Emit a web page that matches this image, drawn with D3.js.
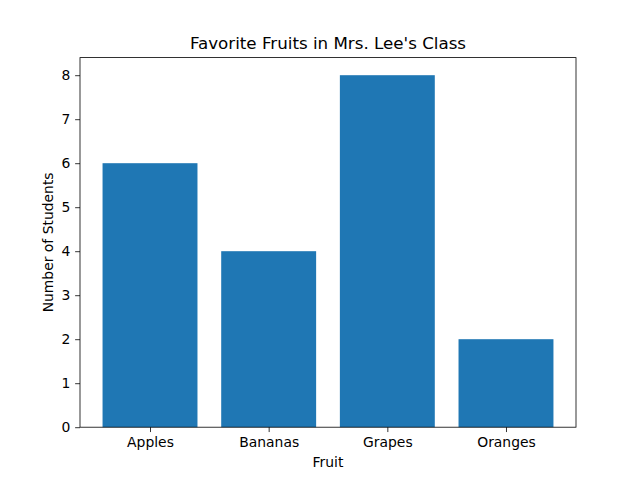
<!DOCTYPE html>
<html><head><meta charset="utf-8">
<script src="https://cdn.jsdelivr.net/npm/d3@7"></script>
<style>body{margin:0;background:#fff}svg{display:block}text{font-family:"DejaVu Sans",sans-serif;fill:#000}</style>
</head><body><svg id="c" width="640" height="480"></svg>
<script>
const categories = ["Apples","Bananas","Grapes","Oranges"];
const values = [6,4,8,2];
const yTicks = [0,1,2,3,4,5,6,7,8];
const title = "Favorite Fruits in Mrs. Lee's Class";
const xLabel = "Fruit";
const yLabel = "Number of Students";

const svg = d3.select("#c");
const L=80, R=576, T=57.6, B=427.2;
const bw=0.8, n=categories.length;
const lo=-bw/2, hi=n-1+bw/2, m=(hi-lo)*0.05;
const x = d3.scaleLinear().domain([lo-m, hi+m]).range([L,R]);
const y = d3.scaleLinear().domain([0, d3.max(values)*1.05]).range([B,T]);

svg.append("g").selectAll("rect").data(values).join("rect")
  .attr("x",(d,i)=>x(i-bw/2)).attr("width",(d,i)=>x(i+bw/2)-x(i-bw/2))
  .attr("y",d=>y(d)).attr("height",d=>y(0)-y(d)).attr("fill","#1f77b4");

const fs=13.9;
const xa = d3.axisBottom(x).tickValues(categories.map((c,i)=>i)).tickFormat(i=>categories[i]).tickSize(4.86).tickPadding(4.86);
const gx = svg.append("g").attr("transform",`translate(0,${B})`).call(xa);
const ya = d3.axisLeft(y).tickValues(yTicks).tickFormat(d3.format("d")).tickSize(4.86).tickPadding(4.86);
const gy = svg.append("g").attr("transform",`translate(${L},0)`).call(ya);
[gx,gy].forEach(g=>{g.select(".domain").remove();g.selectAll("text").attr("font-size",fs).attr("font-family","DejaVu Sans");g.selectAll("line").attr("stroke","#000").attr("stroke-width",0.8);});

svg.append("rect").attr("x",L).attr("y",T).attr("width",R-L).attr("height",B-T)
  .attr("fill","none").attr("stroke","#000").attr("stroke-width",0.8);

svg.append("text").attr("x",(L+R)/2).attr("y",T-8.3).attr("text-anchor","middle").attr("font-size",16.7).text(title);
svg.append("text").attr("x",(L+R)/2).attr("y",467).attr("text-anchor","middle").attr("font-size",fs).text(xLabel);
svg.append("text").attr("transform",`translate(53,${(T+B)/2}) rotate(-90)`).attr("text-anchor","middle").attr("font-size",fs).text(yLabel);
</script></body></html>
